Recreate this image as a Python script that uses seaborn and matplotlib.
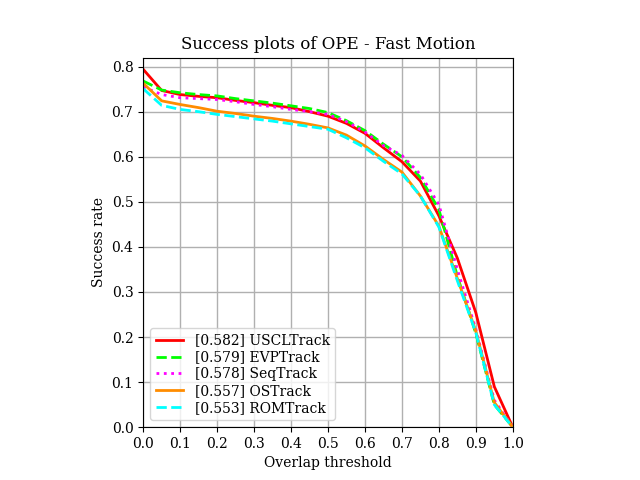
import matplotlib
matplotlib.use("Agg")
import matplotlib.pyplot as plt
import seaborn as sns
import pandas as pd

thresholds = [0.00, 0.05, 0.10, 0.15, 0.20, 0.25, 0.30, 0.35, 0.40, 0.45, 0.50,
              0.55, 0.60, 0.65, 0.70, 0.75, 0.80, 0.85, 0.90, 0.95, 1.00]

uscl = [0.794, 0.747, 0.738, 0.734, 0.731, 0.725, 0.720, 0.714, 0.709, 0.700, 0.690,
        0.674, 0.652, 0.620, 0.589, 0.546, 0.469, 0.375, 0.254, 0.090, 0.0]
evp = [0.768, 0.748, 0.742, 0.738, 0.735, 0.729, 0.724, 0.719, 0.713, 0.707, 0.698,
       0.680, 0.658, 0.628, 0.600, 0.554, 0.483, 0.335, 0.208, 0.050, 0.0]
seq = [0.755, 0.738, 0.731, 0.729, 0.727, 0.722, 0.716, 0.711, 0.705, 0.700, 0.694,
       0.678, 0.655, 0.625, 0.603, 0.561, 0.494, 0.350, 0.217, 0.060, 0.0]
ostrack = [0.763, 0.724, 0.716, 0.709, 0.701, 0.696, 0.690, 0.685, 0.679, 0.672, 0.664,
           0.648, 0.624, 0.594, 0.566, 0.513, 0.446, 0.330, 0.213, 0.055, 0.0]
rom = [0.751, 0.714, 0.705, 0.700, 0.694, 0.689, 0.684, 0.679, 0.673, 0.667, 0.661,
       0.642, 0.620, 0.590, 0.562, 0.513, 0.444, 0.325, 0.210, 0.050, 0.0]

labels = ["[0.582] USCLTrack", "[0.579] EVPTrack", "[0.578] SeqTrack",
          "[0.557] OSTrack", "[0.553] ROMTrack"]
series = [uscl, evp, seq, ostrack, rom]
colors = ["#ff0000", "#00ff00", "#ff00ff", "#ff8c00", "#00ffff"]
styles = ["-", "--", ":", "-", "--"]

plt.rcParams['font.family'] = ['DejaVu Serif']

fig, ax = plt.subplots(figsize=(6.4, 4.8), dpi=100)
for vals, lab, c, ls in zip(series, labels, colors, styles):
    df = pd.DataFrame({"t": thresholds, "v": vals})
    sns.lineplot(data=df, x="t", y="v", ax=ax, color=c, linestyle=ls,
                 linewidth=2, label=lab)

ax.set_xlim(0, 1)
ax.set_ylim(0, 0.82)
ax.set_xticks([i / 10 for i in range(11)])
ax.set_yticks([i / 10 for i in range(9)])
ax.set_box_aspect(1)
ax.grid(True, color="#b0b0b0", linewidth=1)
ax.set_axisbelow(True)
ax.set_title("Success plots of OPE - Fast Motion", fontsize=12)
ax.set_xlabel("Overlap threshold")
ax.set_ylabel("Success rate")
ax.legend(loc="lower left", fontsize=10, labelspacing=0.2)

fig.savefig("out.png", dpi=100)
